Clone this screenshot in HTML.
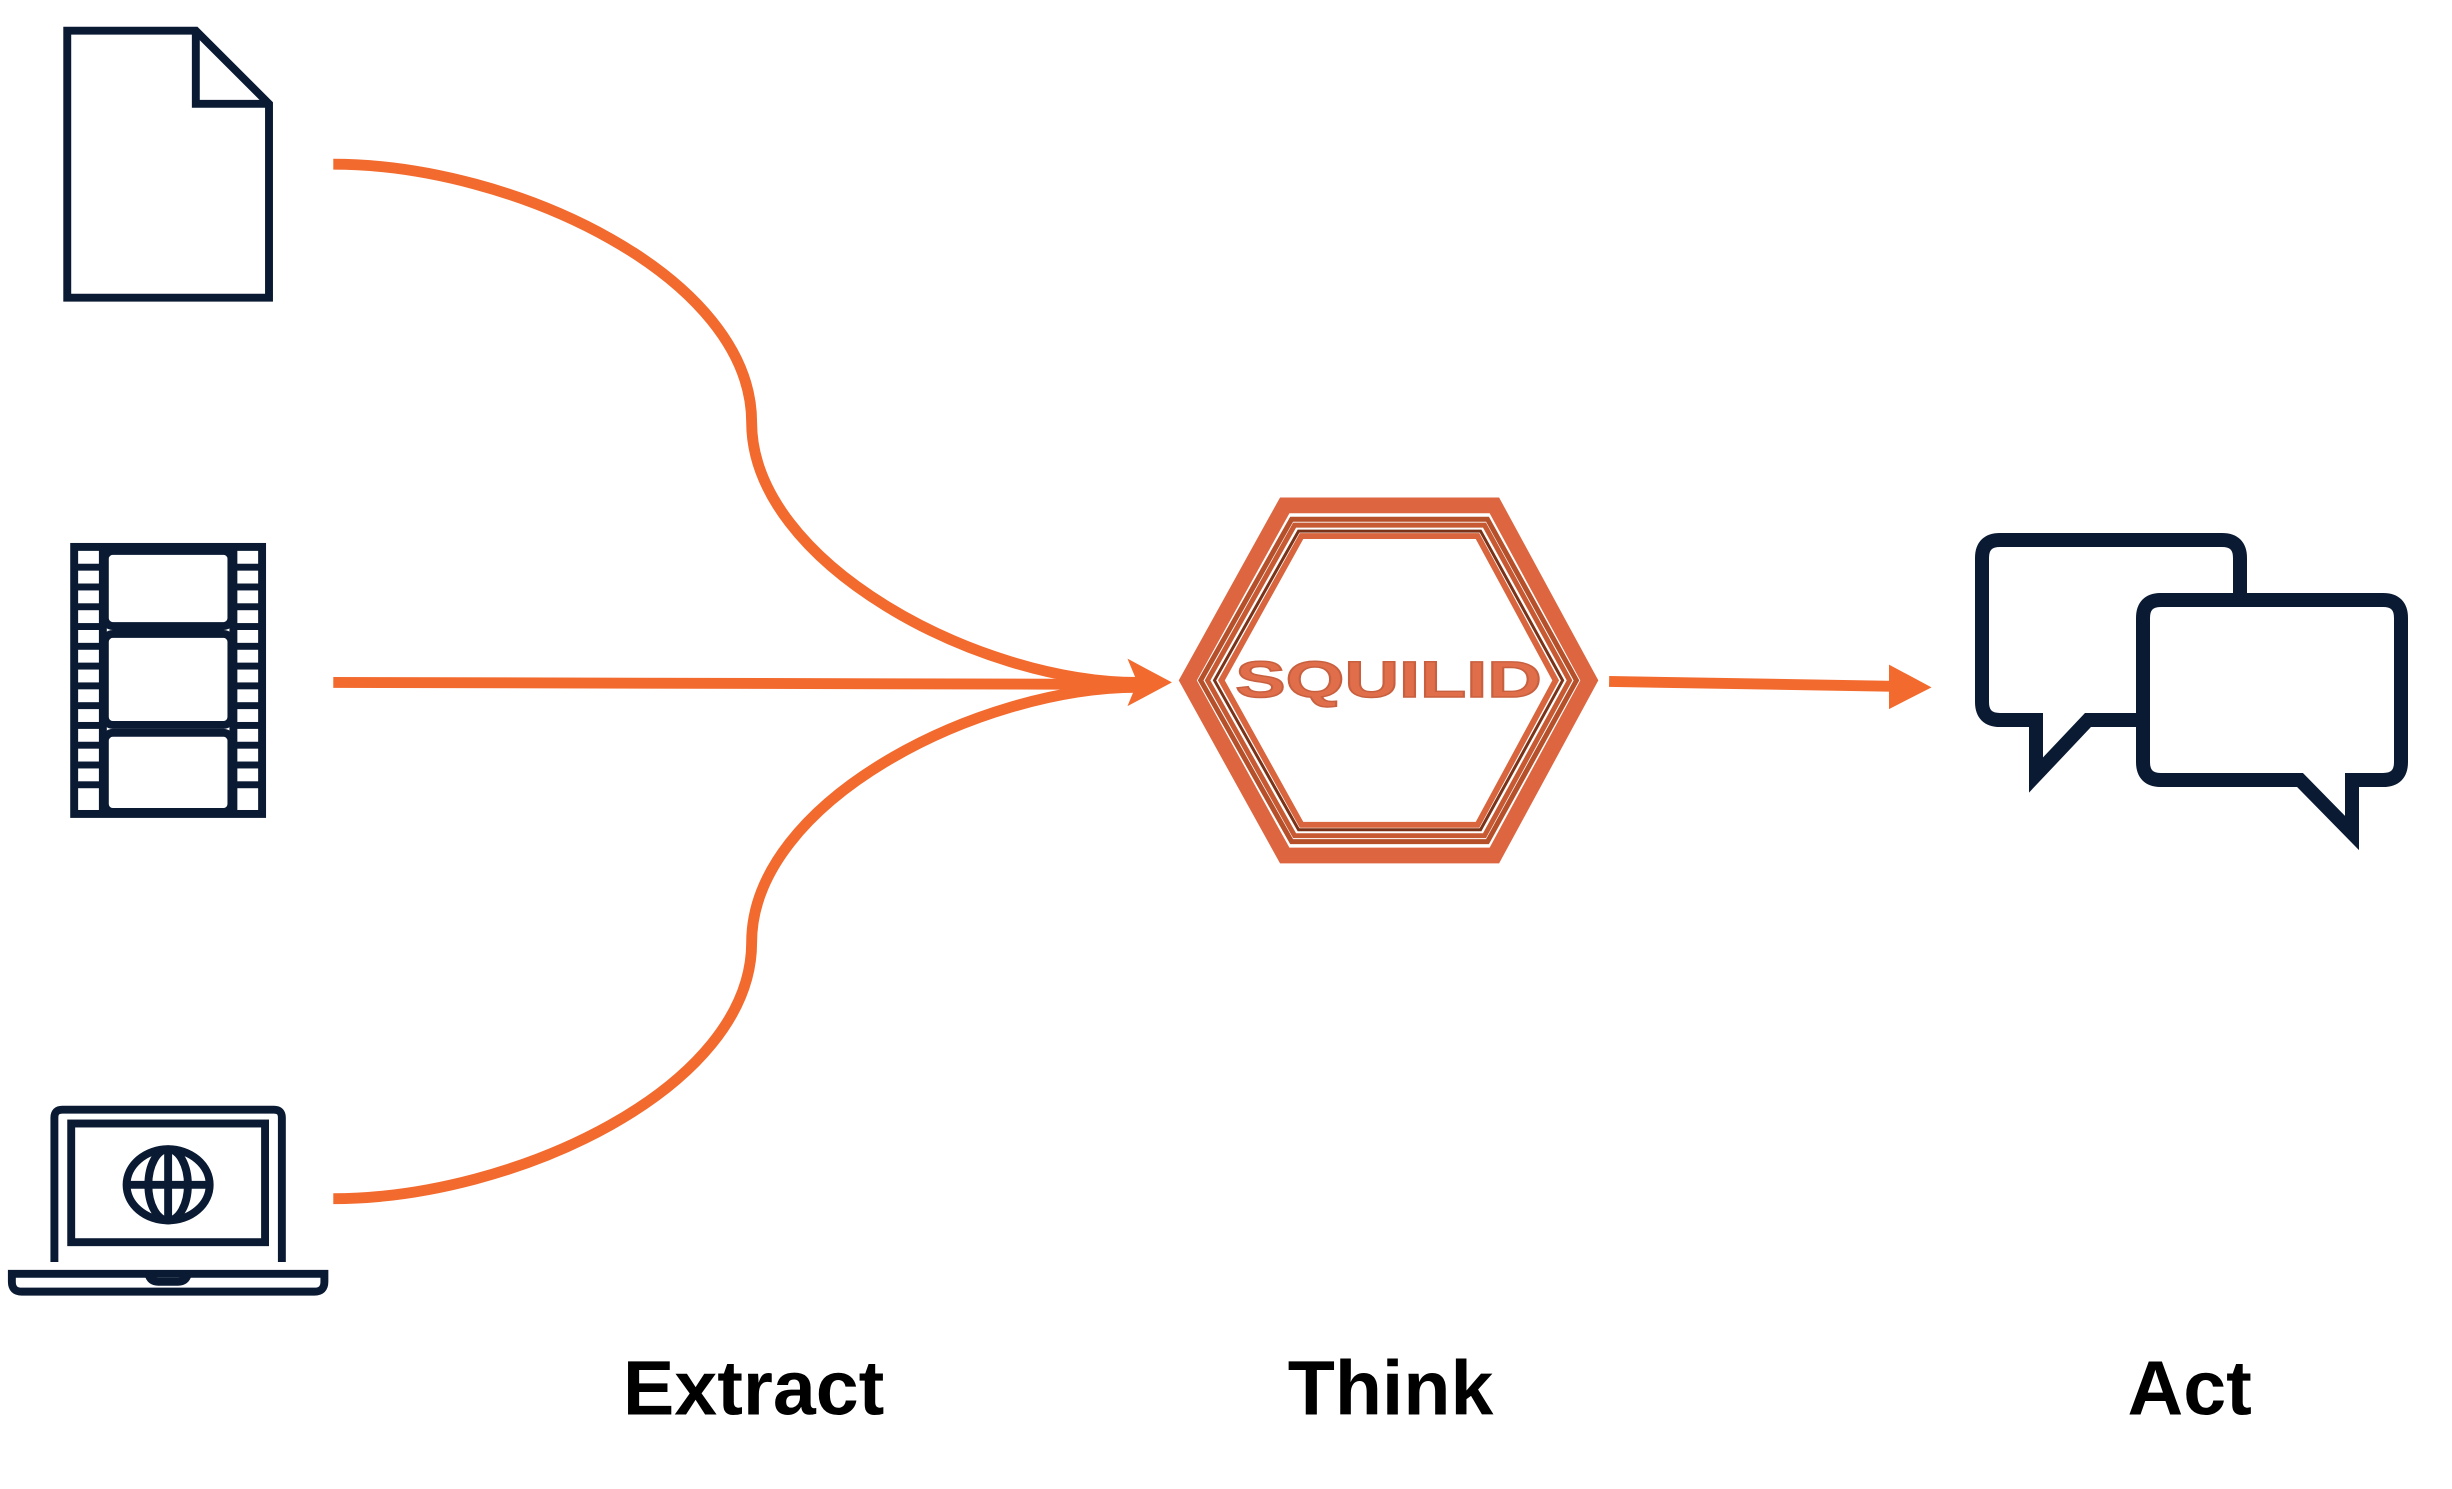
<!DOCTYPE html>
<html><head><meta charset="utf-8"><style>
html,body{margin:0;padding:0;background:#fff;}
svg{display:block;}
</style></head><body>
<svg width="2452" height="1489" viewBox="0 0 2452 1489" xmlns="http://www.w3.org/2000/svg">
<g transform="scale(0.989)">
<!-- connectors -->
<g fill="none" stroke="#f26a2e" stroke-width="11">
<path d="M337,166 C520,166 760,280 760,427 C760,570 990,690 1150,690"/>
<path d="M337,690 L1150,692"/>
<path d="M337,1212 C520,1212 760,1100 760,953 C760,810 990,695 1150,695"/>
<path d="M1627,689 L1915,694"/>
</g>
<g fill="#f26a2e">
<polygon points="1140,666 1185,690 1140,714 1150,690"/>
<polygon points="1910,672 1953,695 1910,717"/>
</g>
<!-- hexagon -->
<g fill="none" stroke-linejoin="miter">
<polygon points="1299,511 1511,511 1607,688 1511,865 1299,865 1201,688" stroke="#dd6640" stroke-width="16"/>
<polygon points="1306,525 1504,525 1594,688 1504,851 1306,851 1214,688" stroke="#b5502b" stroke-width="5"/>
<polygon points="1309,531 1501,531 1587,688 1501,845 1309,845 1221,688" stroke="#c85a33" stroke-width="5"/>
<polygon points="1313,537 1497,537 1580,688 1497,839 1313,839 1228,688" stroke="#7a3318" stroke-width="3"/>
<polygon points="1316,542 1494,542 1573,688 1494,834 1316,834 1235,688" stroke="#d8653d" stroke-width="6"/>
</g>
<text x="1404" y="705" text-anchor="middle" font-family="'Liberation Sans',sans-serif" font-weight="bold" font-size="52" fill="#e06e4a" stroke="#c86040" stroke-width="1.5" textLength="310" lengthAdjust="spacingAndGlyphs">SQUILID</text>
<!-- document icon -->
<g fill="none" stroke="#0a1a33" stroke-width="8" stroke-linejoin="miter">
<polygon points="68,31 198,31 272,105 272,301 68,301"/>
<polyline points="198,31 198,105 272,105"/>
</g>
<!-- film icon -->
<g fill="none" stroke="#0a1a33" stroke-width="8">
<rect x="75" y="553" width="190" height="270"/>
<line x1="104" y1="553" x2="104" y2="823"/>
<line x1="236" y1="553" x2="236" y2="823"/>
<rect x="106" y="557" width="128" height="76" rx="8"/>
<rect x="106" y="641" width="128" height="92" rx="8"/>
<rect x="106" y="741" width="128" height="80" rx="8"/>
</g>
<g fill="#0a1a33">
<rect x="75" y="570" width="29" height="7"/><rect x="75" y="590" width="29" height="7"/><rect x="75" y="610" width="29" height="7"/><rect x="75" y="630" width="29" height="7"/><rect x="75" y="650" width="29" height="7"/><rect x="75" y="670" width="29" height="7"/><rect x="75" y="690" width="29" height="7"/><rect x="75" y="710" width="29" height="7"/><rect x="75" y="730" width="29" height="7"/><rect x="75" y="750" width="29" height="7"/><rect x="75" y="770" width="29" height="7"/><rect x="75" y="790" width="29" height="7"/>
<rect x="236" y="570" width="29" height="7"/><rect x="236" y="590" width="29" height="7"/><rect x="236" y="610" width="29" height="7"/><rect x="236" y="630" width="29" height="7"/><rect x="236" y="650" width="29" height="7"/><rect x="236" y="670" width="29" height="7"/><rect x="236" y="690" width="29" height="7"/><rect x="236" y="710" width="29" height="7"/><rect x="236" y="730" width="29" height="7"/><rect x="236" y="750" width="29" height="7"/><rect x="236" y="770" width="29" height="7"/><rect x="236" y="790" width="29" height="7"/>
</g>
<!-- laptop icon -->
<g fill="none" stroke="#0a1a33" stroke-width="8">
<path d="M55,1276 L55,1130 Q55,1122 63,1122 L277,1122 Q285,1122 285,1130 L285,1276"/>
<rect x="72" y="1136" width="196" height="120"/>
<path d="M12,1288 L328,1288 L328,1296 Q328,1306 318,1306 L22,1306 Q12,1306 12,1296 Z"/>
<path d="M150,1288 Q152,1296 160,1296 L180,1296 Q188,1296 190,1288"/>
<ellipse cx="170" cy="1198" rx="42" ry="36"/>
<ellipse cx="170" cy="1198" rx="20" ry="36"/>
<line x1="170" y1="1162" x2="170" y2="1234"/>
<line x1="128" y1="1198" x2="212" y2="1198"/>
</g>
<!-- labels -->
<g font-family="'Liberation Sans',sans-serif" font-weight="bold" font-size="78" fill="#000" text-anchor="middle">
<text x="762" y="1430">Extract</text>
<text x="1406" y="1430">Think</text>
<text x="2214" y="1430">Act</text>
</g>
</g>
<!-- chat bubbles (real px) -->
<g fill="none" stroke="#0a1a33" stroke-width="14" stroke-linejoin="miter">
<path d="M2240,605 L2240,558 Q2240,540 2222,540 L2000,540 Q1982,540 1982,558 L1982,702 Q1982,720 2000,720 L2036,720 L2036,775 L2088,720 L2143,720"/>
<path d="M2161,600 L2383,600 Q2401,600 2401,618 L2401,762 Q2401,780 2383,780 L2352,780 L2352,833 L2300,780 L2161,780 Q2143,780 2143,762 L2143,618 Q2143,600 2161,600 Z"/>
</g>
</svg>
</body></html>
